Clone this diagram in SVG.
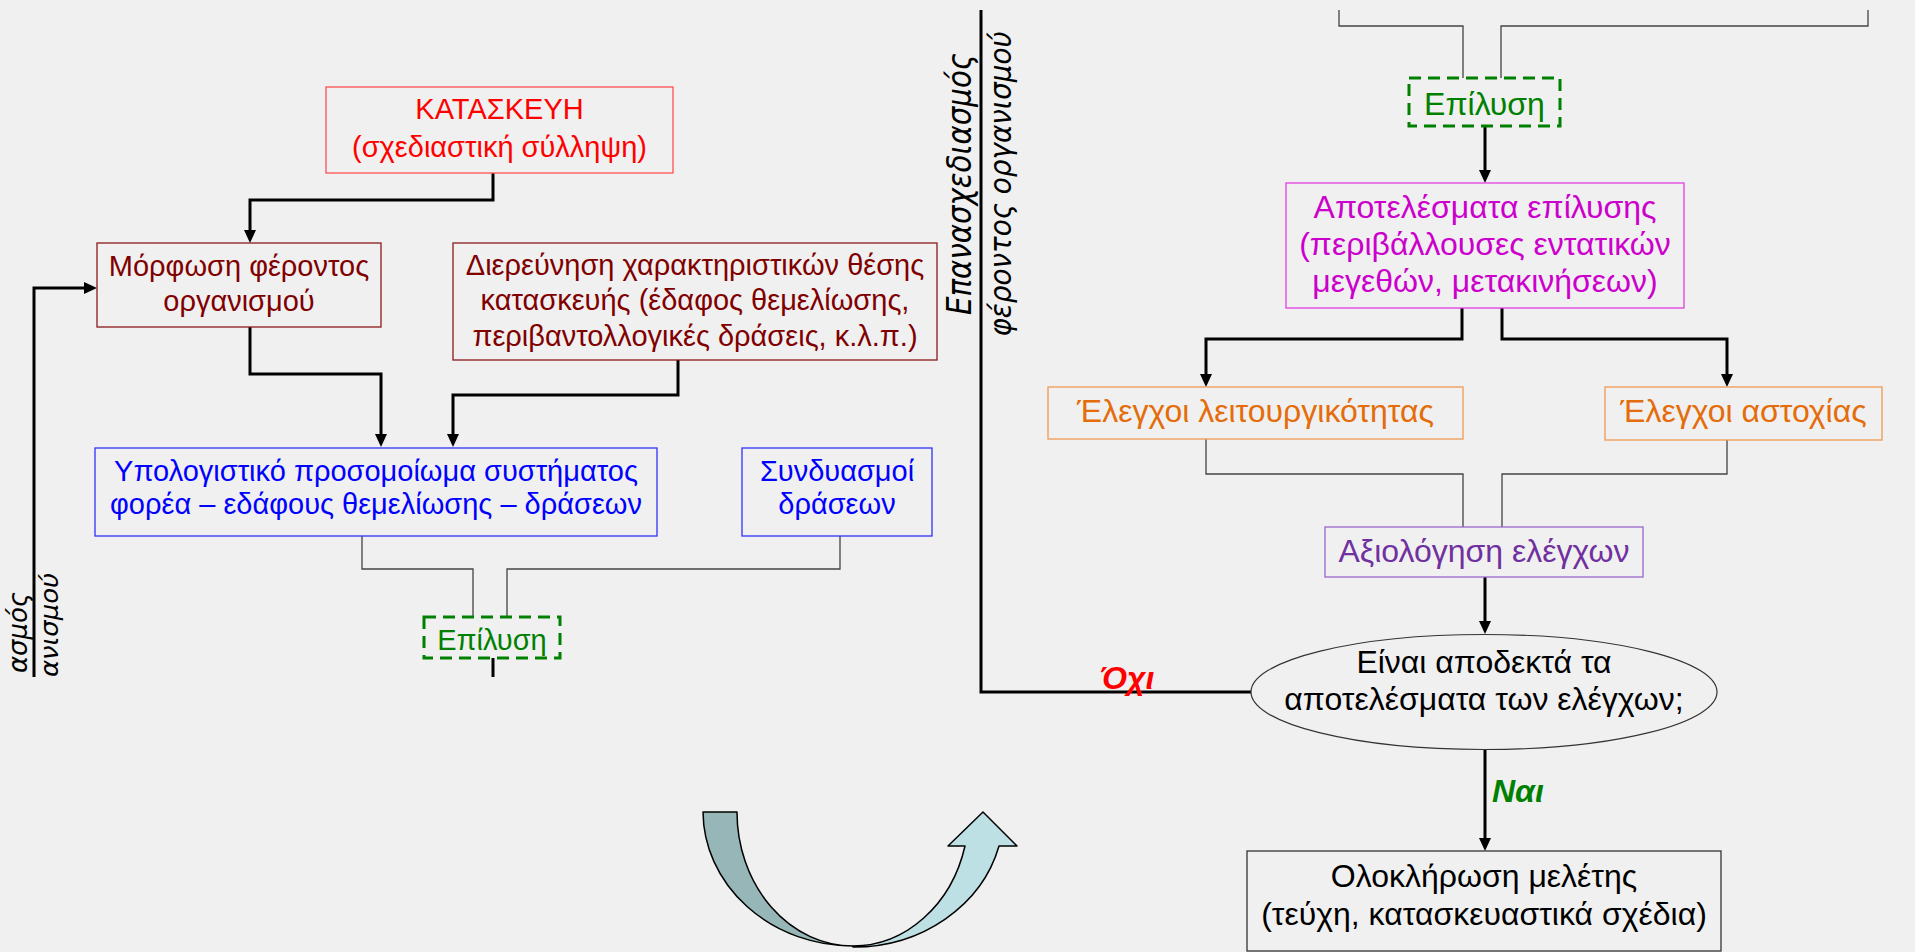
<svg xmlns="http://www.w3.org/2000/svg" width="1915" height="952" viewBox="0 0 1915 952">
<defs>
<style>
.t{font-family:"Liberation Sans",Arial,sans-serif;text-anchor:middle}
.s29{font-size:29px}
.s32{font-size:32px}
.box{fill:none;stroke-width:1.3}
.thick{fill:none;stroke:#000;stroke-width:3}
.thin{fill:none;stroke:#444;stroke-width:1.3}
.dash{fill:none;stroke:#008000;stroke-width:3;stroke-dasharray:12 7}
.rot{font-family:"DejaVu Sans",Verdana,sans-serif;font-style:italic;fill:#000}
.lbl{font-family:"Liberation Sans",Arial,sans-serif;font-weight:bold;font-style:italic;font-size:32px}
</style>
<marker id="ah" markerUnits="userSpaceOnUse" markerWidth="14" markerHeight="12" refX="7" refY="6" orient="auto"><path d="M0,0 L13,6 L0,12 z" fill="#000"/></marker>
<clipPath id="clipL"><rect x="0" y="0" width="940" height="677"/></clipPath>
</defs>
<rect width="1915" height="952" fill="#f0f0f0"/>

<g id="connectors">
<path class="thick" marker-end="url(#ah)" d="M493,173 V200 H250 V237"/>
<path class="thick" marker-end="url(#ah)" d="M250,327 V374 H381 V441"/>
<path class="thick" marker-end="url(#ah)" d="M678,360 V395 H453 V441"/>
<path class="thick" marker-end="url(#ah)" d="M34,677 V288 H91"/>
<path class="thick" d="M493,658 V677"/>
<path class="thin" d="M362,536 V569 H473 V617"/>
<path class="thin" d="M840,536 V569 H507 V617"/>
<path class="thin" d="M1339,10 V26 H1463 V78"/>
<path class="thin" d="M1868,10 V26 H1501 V78"/>
<path class="thick" marker-end="url(#ah)" d="M1485,126 V177"/>
<path class="thick" marker-end="url(#ah)" d="M1462,308 V339 H1206 V381"/>
<path class="thick" marker-end="url(#ah)" d="M1502,308 V339 H1727 V381"/>
<path class="thin" d="M1206,439 V474 H1463 V527"/>
<path class="thin" d="M1727,440 V474 H1502 V527"/>
<path class="thick" marker-end="url(#ah)" d="M1485,577 V628"/>
<path class="thick" d="M1251,692 H981 V10"/>
<path class="thick" marker-end="url(#ah)" d="M1485,749 V845"/>
<text class="lbl" x="1100" y="689" fill="#ff0000">Όχι</text>
<text class="lbl" x="1492" y="802" fill="#008000">Ναι</text>
</g>

<g id="n-kataskevi">
<rect class="box" x="326" y="87" width="347" height="86" stroke="#ff5050"/>
<text class="t s29" fill="#ff0000"><tspan x="499.5" y="119">ΚΑΤΑΣΚΕΥΗ</tspan><tspan x="499.5" y="157">(σχεδιαστική σύλληψη)</tspan></text>
</g>

<g id="n-morfosi">
<rect class="box" x="97" y="243" width="284" height="84" stroke="#8b1a1a"/>
<text class="t s29" fill="#800000"><tspan x="239" y="276">Μόρφωση φέροντος</tspan><tspan x="239" y="311">οργανισμού</tspan></text>
</g>

<g id="n-dierevnisi">
<rect class="box" x="453" y="243" width="484" height="117" stroke="#8b1a1a"/>
<text class="t s29" fill="#800000"><tspan x="695" y="275">Διερεύνηση χαρακτηριστικών θέσης</tspan><tspan x="695" y="310">κατασκευής (έδαφος θεμελίωσης,</tspan><tspan x="695" y="346">περιβαντολλογικές δράσεις, κ.λ.π.)</tspan></text>
</g>

<g id="n-prosomoioma">
<rect class="box" x="95" y="448" width="562" height="88" stroke="#3030ff"/>
<text class="t s29" fill="#0000ff"><tspan x="376" y="481">Υπολογιστικό προσομοίωμα συστήματος</tspan><tspan x="376" y="514">φορέα – εδάφους θεμελίωσης – δράσεων</tspan></text>
</g>

<g id="n-syndyasmoi">
<rect class="box" x="742" y="448" width="190" height="88" stroke="#3030ff"/>
<text class="t s29" fill="#0000ff"><tspan x="837" y="481">Συνδυασμοί</tspan><tspan x="837" y="514">δράσεων</tspan></text>
</g>

<g id="n-epilysi-left">
<rect class="dash" x="424" y="617" width="136" height="41"/>
<text class="t s29" x="492" y="650" fill="#008000">Επίλυση</text>
</g>

<g id="n-left-vertical-text" clip-path="url(#clipL)">
<text class="rot" font-size="27" text-anchor="end" textLength="81" lengthAdjust="spacingAndGlyphs" transform="translate(27,592) rotate(-90)">ασμός</text>
<text class="rot" font-size="24" text-anchor="end" textLength="104" lengthAdjust="spacingAndGlyphs" transform="translate(58,573) rotate(-90)">ανισμού</text>
</g>

<g id="n-right-vertical-text">
<text class="rot" font-size="33" text-anchor="middle" textLength="262" lengthAdjust="spacingAndGlyphs" transform="translate(971,184) rotate(-90)">Επανασχεδιασμός</text>
<text class="rot" font-size="30" text-anchor="middle" textLength="305" lengthAdjust="spacingAndGlyphs" transform="translate(1011,184) rotate(-90)">φέροντος οργανισμού</text>
</g>

<g id="n-epilysi-right">
<rect class="dash" x="1409" y="78" width="151" height="48"/>
<text class="t s32" x="1484.5" y="115" fill="#008000">Επίλυση</text>
</g>

<g id="n-apotelesmata">
<rect class="box" x="1286" y="183" width="398" height="125" stroke="#e040e0"/>
<text class="t s32" fill="#cc00cc"><tspan x="1485" y="218">Αποτελέσματα επίλυσης</tspan><tspan x="1485" y="255">(περιβάλλουσες εντατικών</tspan><tspan x="1485" y="292">μεγεθών, μετακινήσεων)</tspan></text>
</g>

<g id="n-leitourgikotita">
<rect class="box" x="1048" y="387" width="415" height="52" stroke="#f09850"/>
<text class="t s32" x="1255.5" y="422" fill="#e46c0a">Έλεγχοι λειτουργικότητας</text>
</g>

<g id="n-astoxia">
<rect class="box" x="1605" y="387" width="277" height="53" stroke="#f09850"/>
<text class="t s32" x="1743.5" y="422" fill="#e46c0a">Έλεγχοι αστοχίας</text>
</g>

<g id="n-axiologisi">
<rect class="box" x="1325" y="527" width="318" height="50" stroke="#9966cc"/>
<text class="t s32" x="1484" y="562" fill="#7030a0">Αξιολόγηση ελέγχων</text>
</g>

<g id="n-apodekta">
<ellipse cx="1484" cy="692" rx="233" ry="57.5" fill="none" stroke="#333" stroke-width="1.2"/>
<text class="t s32" fill="#000"><tspan x="1484" y="673">Είναι αποδεκτά τα</tspan><tspan x="1484" y="710">αποτελέσματα των ελέγχων;</tspan></text>
</g>

<g id="n-oloklirosi">
<rect class="box" x="1247" y="851" width="474" height="100" stroke="#333"/>
<text class="t s32" fill="#000"><tspan x="1484" y="887">Ολοκλήρωση μελέτης</tspan><tspan x="1484" y="925">(τεύχη, κατασκευαστικά σχέδια)</tspan></text>
</g>

<g id="uturn-arrow" stroke="#000" stroke-width="1.5" stroke-linejoin="round">
<path d="M703,812 L737,812 A116,134 0 0 0 853,946 A150,135 0 0 1 703,812 Z" fill="#97b6b7"/>
<path d="M853,947 A150,135 0 0 0 999,846 L1017,846 L983,812 L948,846 L965,846 A116,134 0 0 1 853,946 Z" fill="#bde0e4"/>
</g>
</svg>
